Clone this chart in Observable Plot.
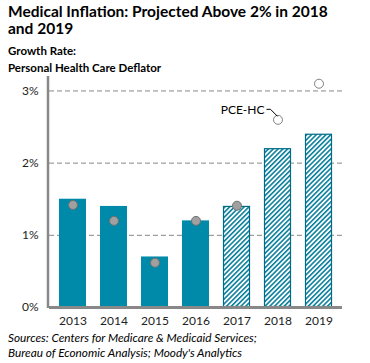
<!DOCTYPE html>
<html><head><meta charset="utf-8">
<script src="https://cdn.jsdelivr.net/npm/d3@7"></script>
<script src="https://cdn.jsdelivr.net/npm/@observablehq/plot@0.6"></script>
<style>
body{margin:0;background:#fff;font-family:Lato,"Open Sans",sans-serif;width:370px;height:363px;position:relative;overflow:hidden}
#title{position:absolute;left:8px;top:3px;font-weight:bold;font-size:15.5px;line-height:17px;color:#000;width:350px}
#sub{position:absolute;left:8px;top:42px;font-weight:bold;font-size:11.5px;line-height:17px;color:#000}
#chart{position:absolute;left:0;top:70px}
#foot{position:absolute;left:8px;top:330px;font-style:italic;font-size:11.8px;line-height:15px;color:#000}
</style></head>
<body>
<div id="title">Medical Inflation: Projected Above 2% in 2018<br>and 2019</div>
<div id="sub">Growth Rate:<br>Personal Health Care Deflator</div>
<div id="chart"></div>
<div id="foot">Sources: Centers for Medicare &amp; Medicaid Services;<br>Bureau of Economic Analysis; Moody's Analytics</div>
<script>
const years = ["2013","2014","2015","2016","2017","2018","2019"];
const deflator = [1.5, 1.4, 0.7, 1.2, 1.4, 2.2, 2.4];
const forecast = [false, false, false, false, true, true, true];
const pceHC = [1.42, 1.2, 0.62, 1.2, 1.41, 2.6, 3.1];
const pceForecast = [false, false, false, false, false, true, true];
const yTicks = [0, 1, 2, 3];
const yTickLabels = ["0%", "1%", "2%", "3%"];

const bars = years.map((y, i) => ({year: y, value: deflator[i], forecast: forecast[i]}));
const dots = years.map((y, i) => ({year: y, value: pceHC[i], forecast: pceForecast[i]}));
const teal = "#008aa9";
const tealDark = "#006b86";

const defs = () => {
  const d = d3.create("svg:defs");
  const p = d.append("pattern").attr("id", "hatch").attr("patternUnits", "userSpaceOnUse")
    .attr("width", 3.4).attr("height", 3.4).attr("patternTransform", "rotate(45)");
  p.append("rect").attr("width", 3.4).attr("height", 3.4).attr("fill", "#fff");
  p.append("line").attr("x1", 0.8).attr("y1", 0).attr("x2", 0.8).attr("y2", 3.4)
    .attr("stroke", "#0a7f9c").attr("stroke-width", 1.6);
  return d.node();
};

const leader = (index, scales) => {
  const x = scales.x("2018") + scales.x.bandwidth() / 2;
  const y = scales.y(2.6);
  const g = d3.create("svg:g");
  g.append("path").attr("d", `M${x-11},${y-10}h4l7,7`).attr("fill", "none").attr("stroke", "#000").attr("stroke-width", 1);
  g.append("text").attr("x", x - 13).attr("y", y - 10).attr("dy", "0.35em").attr("text-anchor", "end")
    .attr("font-size", 12).attr("fill", "#000").text("PCE-HC");
  return g.node();
};

const chart = Plot.plot({
  width: 370,
  height: 260,
  marginTop: 6,
  marginLeft: 49,
  marginRight: 28,
  marginBottom: 23,
  style: {fontFamily: "Lato, 'Open Sans', sans-serif", fontSize: "12px", color: "#222", background: "transparent"},
  x: {domain: years, paddingInner: 0.33, paddingOuter: 0.17, label: null},
  y: {domain: [0, 3.2], label: null},
  marks: [
    defs,
    Plot.ruleY([1, 2, 3], {stroke: "#888", strokeDasharray: "5,3", strokeWidth: 1, strokeOpacity: 1}),
    Plot.barY(bars.filter(d => !d.forecast), {x: "year", y: "value", fill: teal}),
    Plot.barY(bars.filter(d => d.forecast), {x: "year", y: "value", fill: "url(#hatch)", stroke: tealDark, strokeWidth: 1.2, inset: 0.5}),
    Plot.dot(dots.filter(d => !d.forecast), {x: "year", y: "value", r: 4.5, fill: "#a0a0a0", stroke: "#707070", strokeWidth: 1}),
    Plot.dot(dots.filter(d => d.forecast), {x: "year", y: "value", r: 4.5, fill: "#fff", stroke: "#808080", strokeWidth: 1}),
    Plot.axisY({ticks: yTicks, tickFormat: (d, i) => yTickLabels[i], tickSize: 0, tickPadding: 11, fontSize: 12}),
    Plot.axisX({tickSize: 0, tickPadding: 9, fontSize: 12}),
    Plot.ruleY([0], {stroke: "#888", strokeWidth: 3}),
    leader
  ]
});
const svg = d3.select(chart);
svg.append("line").attr("x1", 48).attr("x2", 48).attr("y1", 6).attr("y2", 238).attr("stroke", "#888").attr("stroke-width", 2.5);
document.getElementById("chart").appendChild(chart);
</script>
</body></html>
